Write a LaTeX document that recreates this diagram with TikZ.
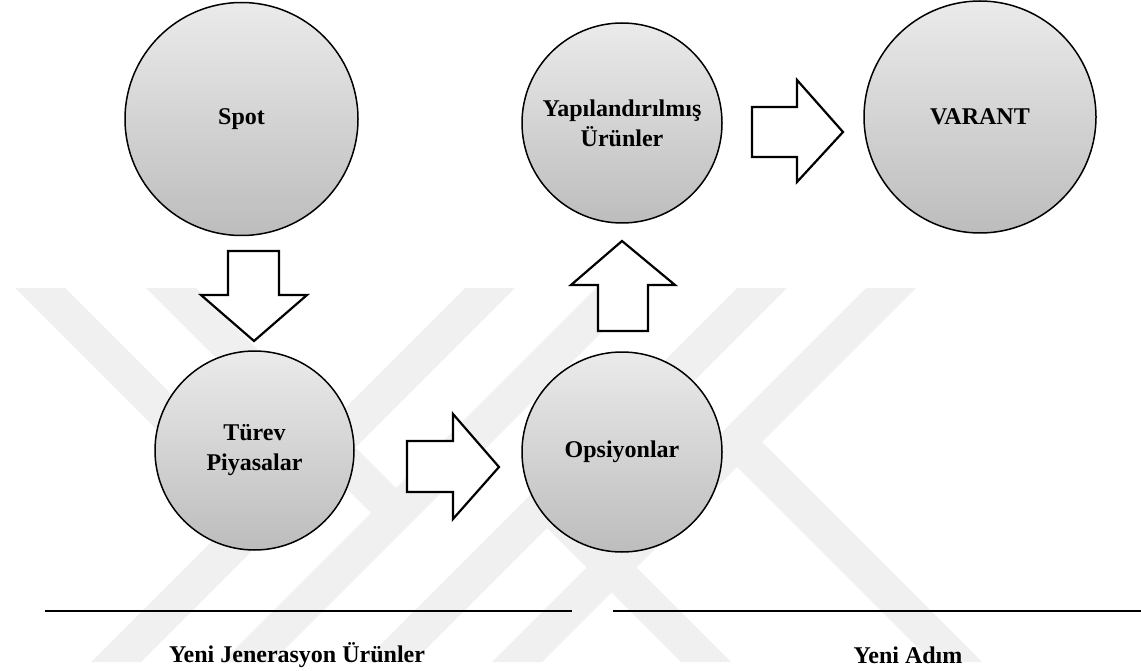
\documentclass[tikz,border=0pt]{standalone}
\usepackage{fontspec}
\setmainfont{Liberation Serif}
\usetikzlibrary{shapes.geometric}
\begin{document}
\begin{tikzpicture}[x=1pt,y=-1pt,
  bubble/.style={circle,draw=black,line width=1.5pt,top color=black!8,bottom color=black!26,
    font=\fontsize{24}{30}\selectfont\bfseries,align=center,inner sep=0pt},
  blockarrow/.style={draw=black,fill=white,line width=2.2pt,line join=miter},
  rulestyle/.style={line width=1.5pt},
  caption/.style={font=\fontsize{24}{30}\selectfont\bfseries},
  wm/.style={fill=black!6,draw=none}]
\useasboundingbox (0,0) rectangle (1141,671);
% faint watermark
\fill[wm] (15,288)--(65,288)--(290,513)--(240,513)--cycle;
\fill[wm] (146,288)--(196,288)--(421,513)--(371,513)--cycle;
\fill[wm] (91,662)--(141,662)--(515,288)--(465,288)--cycle;
\fill[wm] (222,662)--(272,662)--(646,288)--(596,288)--cycle;
\fill[wm] (737,288)--(787,288)--(413,662)--(363,662)--cycle;
\fill[wm] (866,288)--(916,288)--(542,662)--(492,662)--cycle;
\fill[wm] (681,662)--(731,662)--(572,503)--(522,503)--cycle;
\fill[wm] (932,662)--(982,662)--(762,442)--(712,442)--cycle;
% bubbles
\node[bubble,minimum size=233pt] (spot) at (241.5,119) {Spot};
\node[bubble,minimum size=199pt] (turev) at (254.5,450.5) {Türev\\Piyasalar};
\node[bubble,minimum size=200pt] (ops) at (622,452) {Opsiyonlar};
\node[bubble,minimum size=200pt] (yap) at (622,123) {Yapılandırılmış\\Ürünler};
\node[bubble,minimum size=232pt] (var) at (980,117) {VARANT};
% block arrows
\draw[blockarrow] (228,251)--(279,251)--(279,295)--(307,295)--(254,341)--(201,295)--(228,295)--cycle;
\draw[blockarrow] (407,441)--(453,441)--(453,414)--(499,467)--(453,519)--(453,492)--(407,492)--cycle;
\draw[blockarrow] (598,331)--(598,285)--(571,285)--(622,241)--(675,285)--(648,285)--(648,331)--cycle;
\draw[blockarrow] (752,107)--(797,107)--(797,80)--(843,132)--(797,182)--(797,157)--(752,157)--cycle;
% rules and captions
\coordinate (l1a) at (45,611);
\coordinate (l1b) at (572,611);
\coordinate (l2a) at (613,611);
\coordinate (l2b) at (1141,611);
\draw[rulestyle] (l1a)--(l1b);
\draw[rulestyle] (l2a)--(l2b);
\node[caption] (cap1) at (297,655) {Yeni Jenerasyon Ürünler};
\node[caption] (cap2) at (908,655) {Yeni Adım};
\end{tikzpicture}
\end{document}
